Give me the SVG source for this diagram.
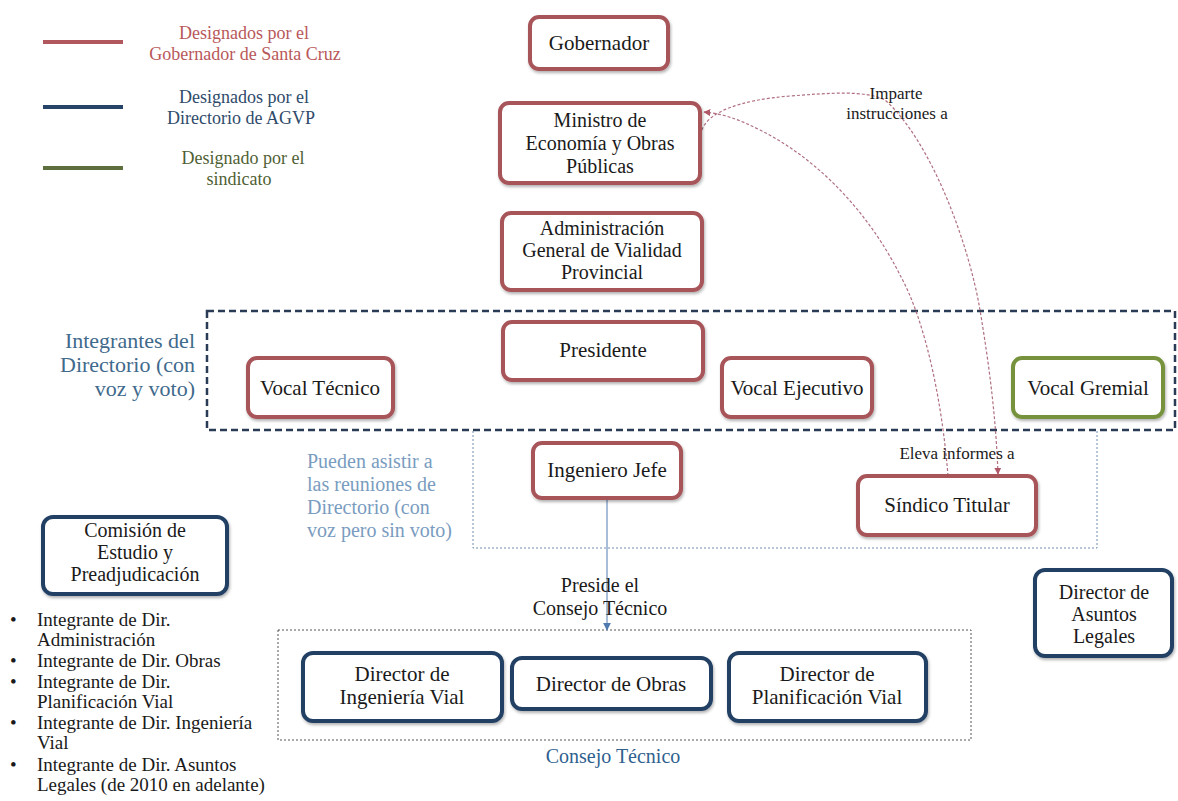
<svg xmlns="http://www.w3.org/2000/svg" width="1178" height="801" viewBox="0 0 1178 801">
<defs>
<filter id="sh" x="-10%" y="-10%" width="120%" height="130%"><feDropShadow dx="1" dy="2" stdDeviation="1.5" flood-color="#000" flood-opacity="0.3"/></filter>
<marker id="ar" viewBox="0 0 10 10" refX="9" refY="5" markerWidth="7" markerHeight="7" orient="auto" markerUnits="userSpaceOnUse"><path d="M0,0 L10,5 L0,10 Z" fill="#b05868"/></marker>
<marker id="ab" viewBox="0 0 10 10" refX="9" refY="5" markerWidth="8" markerHeight="8" orient="auto" markerUnits="userSpaceOnUse"><path d="M0,0 L10,5 L0,10 Z" fill="#4f7ab0"/></marker>
<style>
text{font-family:"Liberation Serif","DejaVu Serif",serif;}
.n{font-size:21px;fill:#1a1a1a;text-anchor:middle;}
.m{font-size:20px;fill:#1a1a1a;text-anchor:middle;}
.r{fill:#fff;stroke:#a8545a;stroke-width:4;filter:url(#sh);}
.b{fill:#fff;stroke:#213f63;stroke-width:4;filter:url(#sh);}
.g{fill:#fff;stroke:#76923c;stroke-width:4;filter:url(#sh);}
.lg{font-size:18px;text-anchor:middle;}
.lbl{font-size:17px;fill:#1a1a1a;text-anchor:middle;}
.bul{font-size:19px;fill:#1a1a1a;}
.cur{fill:none;stroke:#b07080;stroke-width:1.2;stroke-dasharray:3,2;}
</style>
</defs>
<g id="legend">
<line x1="43" y1="42" x2="123" y2="42" stroke="#b0585e" stroke-width="4"/>
<line x1="43" y1="107" x2="123" y2="107" stroke="#264467" stroke-width="4"/>
<line x1="43" y1="168" x2="123" y2="168" stroke="#5e6e3c" stroke-width="4"/>
<text class="lg" fill="#b8585a"><tspan x="244" y="39">Designados por el</tspan><tspan x="245" y="60">Gobernador  de Santa Cruz</tspan></text>
<text class="lg" fill="#2f4b6a"><tspan x="244" y="103">Designados por el</tspan><tspan x="241" y="124">Directorio de AGVP</tspan></text>
<text class="lg" fill="#4f5f35"><tspan x="243" y="164">Designado por el</tspan><tspan x="239" y="185">sindicato</tspan></text>
</g>
<g id="groups">
<rect x="207" y="311" width="968" height="119" fill="none" stroke="#2a3c55" stroke-width="2.5" stroke-dasharray="7,4"/>
<path d="M473,431 V548 H1097 V431" fill="none" stroke="#6f8fae" stroke-width="1" stroke-dasharray="2,2"/>
<rect x="278" y="630" width="693" height="110" fill="none" stroke="#555" stroke-width="1" stroke-dasharray="2,2"/>
<text font-size="22" fill="#3f6a8c" text-anchor="end"><tspan x="195" y="348">Integrantes del</tspan><tspan x="195" y="372">Directorio (con</tspan><tspan x="195" y="396">voz y voto)</tspan></text>
<text font-size="20" fill="#7a9cc0"><tspan x="307" y="468">Pueden asistir a</tspan><tspan x="307" y="491">las reuniones de</tspan><tspan x="307" y="514">Directorio (con</tspan><tspan x="307" y="537">voz pero sin voto)</tspan></text>
<text font-size="20" fill="#2f5f8f" text-anchor="middle" x="613" y="763">Consejo Técnico</text>
</g>
<g id="connectors">
<path class="cur" d="M702,130 C708,112 740,100 790,96 C830,93 865,90 885,100 C930,140 968,240 980,310 C990,370 996,420 998,474" marker-end="url(#ar)"/>
<path class="cur" d="M948,476 C942,400 925,320 900,275 C870,215 820,160 760,130 C740,120 725,114 704,112" marker-end="url(#ar)"/>
<line x1="607" y1="499" x2="607" y2="630" stroke="#4f7ab0" stroke-width="1" marker-end="url(#ab)"/>
<text class="lbl"><tspan x="896" y="99">Imparte</tspan><tspan x="897" y="119">instrucciones  a</tspan></text>
<text class="lbl" x="957" y="459">Eleva informes a</text>
<text class="m"><tspan x="600" y="592">Preside el</tspan><tspan x="600" y="615">Consejo Técnico</tspan></text>
</g>
<g id="gobernador"><rect class="r" x="530" y="17" width="138" height="52" rx="9"/><text class="n" x="599" y="50" font-size="23">Gobernador</text></g>
<g id="ministro"><rect class="r" x="500" y="103" width="200" height="80" rx="9"/><text class="m"><tspan x="600" y="127">Ministro de</tspan><tspan x="600" y="150">Economía y Obras</tspan><tspan x="600" y="173">Públicas</tspan></text></g>
<g id="agvp"><rect class="r" x="502" y="213" width="200" height="77" rx="9"/><text class="m"><tspan x="602" y="235">Administración</tspan><tspan x="602" y="257">General de Vialidad</tspan><tspan x="602" y="279">Provincial</tspan></text></g>
<g id="presidente"><rect class="r" x="503" y="322" width="200" height="58" rx="9"/><text class="n" x="603" y="357">Presidente</text></g>
<g id="vocal-tecnico"><rect class="r" x="248" y="358" width="145" height="59" rx="9"/><text class="n" x="320" y="395">Vocal Técnico</text></g>
<g id="vocal-ejecutivo"><rect class="r" x="722" y="358" width="150" height="59" rx="9"/><text class="n" x="797" y="395">Vocal Ejecutivo</text></g>
<g id="vocal-gremial"><rect class="g" x="1013" y="358" width="150" height="59" rx="9"/><text class="n" x="1088" y="395">Vocal Gremial</text></g>
<g id="ingeniero-jefe"><rect class="r" x="533" y="443" width="148" height="55" rx="9"/><text class="n" x="607" y="477">Ingeniero Jefe</text></g>
<g id="sindico"><rect class="r" x="858" y="476" width="178" height="59" rx="9"/><text class="n" x="947" y="512">Síndico Titular</text></g>
<g id="comision"><rect class="b" x="43" y="517" width="184" height="77" rx="10"/><text class="m"><tspan x="135" y="537">Comisión de</tspan><tspan x="135" y="559">Estudio y</tspan><tspan x="135" y="581">Preadjudicación</tspan></text></g>
<g id="asuntos-legales"><rect class="b" x="1035" y="570" width="137" height="86" rx="10"/><text class="m"><tspan x="1104" y="599">Director de</tspan><tspan x="1104" y="621">Asuntos</tspan><tspan x="1104" y="643">Legales</tspan></text></g>
<g id="dir-ingenieria"><rect class="b" x="303" y="653" width="199" height="68" rx="10"/><text class="n"><tspan x="402" y="681">Director de</tspan><tspan x="402" y="704">Ingeniería Vial</tspan></text></g>
<g id="dir-obras"><rect class="b" x="512" y="658" width="199" height="51" rx="10"/><text class="n" x="611" y="691">Director de Obras</text></g>
<g id="dir-planificacion"><rect class="b" x="729" y="653" width="197" height="68" rx="10"/><text class="n"><tspan x="827" y="681">Director de</tspan><tspan x="827" y="704">Planificación Vial</tspan></text></g>
<g id="bullets">
<text class="bul"><tspan x="10" y="626">•</tspan><tspan x="37" y="626">Integrante de Dir.</tspan><tspan x="37" y="646">Administración</tspan><tspan x="10" y="667">•</tspan><tspan x="37" y="667">Integrante de Dir. Obras</tspan><tspan x="10" y="688">•</tspan><tspan x="37" y="688">Integrante de Dir.</tspan><tspan x="37" y="708">Planificación Vial</tspan><tspan x="10" y="729">•</tspan><tspan x="37" y="729">Integrante de Dir. Ingeniería</tspan><tspan x="37" y="749">Vial</tspan><tspan x="10" y="771">•</tspan><tspan x="37" y="771">Integrante de Dir. Asuntos</tspan><tspan x="37" y="791">Legales (de 2010  en adelante)</tspan></text>
</g>
</svg>
